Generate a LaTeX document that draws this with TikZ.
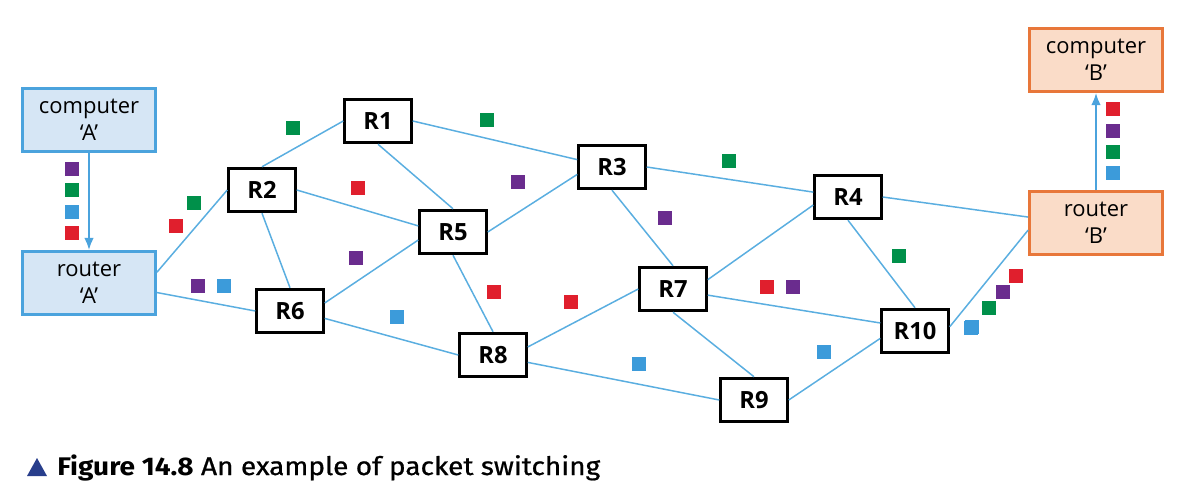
\documentclass[tikz,border=0pt]{standalone}
\usepackage{fontspec}
\setmainfont{Open Sans}
\newfontfamily\capfont[FakeStretch=1.1]{Fira Sans}
\newfontfamily\capmed[FakeStretch=1.1, FakeBold=0.8]{Fira Sans}
\usetikzlibrary{shapes, arrows, arrows.meta, positioning, calc}

\definecolor{lineBlue}{HTML}{5AAEE0}
\definecolor{boxBlue}{HTML}{D6E6F5}
\definecolor{edgeBlue}{HTML}{4BA3DD}
\definecolor{boxOrange}{HTML}{FADCC8}
\definecolor{edgeOrange}{HTML}{E8773A}
\definecolor{pPurple}{HTML}{6A2C8E}
\definecolor{pGreen}{HTML}{00904A}
\definecolor{pBlue}{HTML}{3C9BDA}
\definecolor{pRed}{HTML}{E01F2D}
\definecolor{capBlue}{HTML}{283E8C}

\tikzset{
    router/.style={draw=black, line width=1.7pt, fill=white, minimum width=1.33cm, minimum height=0.87cm, inner sep=0pt, font=\fontsize{13.5}{14}\selectfont\bfseries},
    endA/.style={draw=edgeBlue, fill=boxBlue, line width=1.6pt, minimum width=2.66cm, minimum height=1.26cm, inner sep=0pt, align=center, font=\fontsize{12.5}{15.5}\selectfont},
    endB/.style={endA, draw=edgeOrange, fill=boxOrange},
    link/.style={lineBlue, line width=0.85pt},
    hop/.style={edgeBlue, line width=1.1pt, ->, >={Latex[length=7pt, width=5.5pt]}},
}

\begin{document}
\begin{tikzpicture}[x=0.02cm, y=-0.02cm]
    \useasboundingbox (0,0) rectangle (1184,504);

    % end points
    \node[endA] (compA) at (89,120) {computer\\‘A’};
    \node[endA] (routA) at (89,283) {router\\‘A’};
    \node[endB] (compB) at (1096,60) {computer\\‘B’};
    \node[endB] (routB) at (1096,223) {router\\‘B’};

    % routers
    \node[router] (R1) at (378,121) {R1};
    \node[router] (R2) at (262,190) {R2};
    \node[router] (R3) at (612,167) {R3};
    \node[router] (R4) at (848,197) {R4};
    \node[router] (R5) at (453,232) {R5};
    \node[router] (R6) at (290,311) {R6};
    \node[router] (R7) at (673,289) {R7};
    \node[router] (R8) at (493,355) {R8};
    \node[router] (R9) at (754,400) {R9};
    \node[router] (R10) at (915,331) {R10};

    % links
    \draw[link] (routA.9) -- (R2.west);
    \draw[link] (routA.-8) -- (R6.west);
    \draw[link] (R2.north) -- (R1.west);
    \draw[link] (R2.east) -- (R5.170);
    \draw[link] (R2.south) -- (R6.north);
    \draw[link] (R1.south) -- (R5.north);
    \draw[link] (R1.east) -- (R3.168);
    \draw[link] (R5.east) -- (R3.192);
    \draw[link] (R6.13) -- (R5.193);
    \draw[link] (R5.south) -- (R8.north);
    \draw[link] (R6.-12) -- (R8.west);
    \draw[link] (R3.south) -- (R7.north);
    \draw[link] (R3.east) -- (R4.172);
    \draw[link] (R8.13) -- (R7.west);
    \draw[link] (R8.-12) -- (R9.west);
    \draw[link] (R7.15) -- (R4.193);
    \draw[link] (R7.-10) -- (R10.167);
    \draw[link] (R7.south) -- (R9.north);
    \draw[link] (R4.south) -- (R10.north);
    \draw[link] (R4.east) -- (routB.175);
    \draw[link] (R9.east) -- (R10.192);
    \draw[link] (R10.7) -- (routB.186);

    \draw[hop] (compA) -- (routA);
    \draw[hop] (routB) -- (compB);

    % packets
    \foreach \px/\py/\col in {72/169/pPurple, 72/190/pGreen, 72/212/pBlue, 72/233/pRed,
        194/203/pGreen, 176/226/pRed, 293/128/pGreen, 198/286/pPurple, 224/286/pBlue,
        358/188/pRed, 487/120/pGreen, 518/182/pPurple, 356/258/pPurple, 665/218/pPurple,
        397/317/pBlue, 494/292/pRed, 571/302/pRed, 729/161/pGreen, 899/256/pGreen,
        767/287/pRed, 793/287/pPurple, 824/352/pBlue, 639/364/pBlue, 971/328/pBlue,
        1113/109/pRed, 1113/131/pPurple, 1113/152/pGreen, 1113/173/pBlue,
        1016/276/pRed, 1003/292/pPurple, 989/308/pGreen, 972/327/pBlue}
        \fill[\col] ({\px-7},{\py-7}) rectangle ({\px+7},{\py+7});

    % caption
    \fill[capBlue] (27,476) -- (47,476) -- (37,458) -- cycle;
    \node[anchor=base west, inner sep=0pt, font=\fontsize{14.5}{15}\selectfont] (cap) at (57,475) {\capfont\textbf{Figure 14.8} \capmed An example of packet switching};
\end{tikzpicture}
\end{document}
